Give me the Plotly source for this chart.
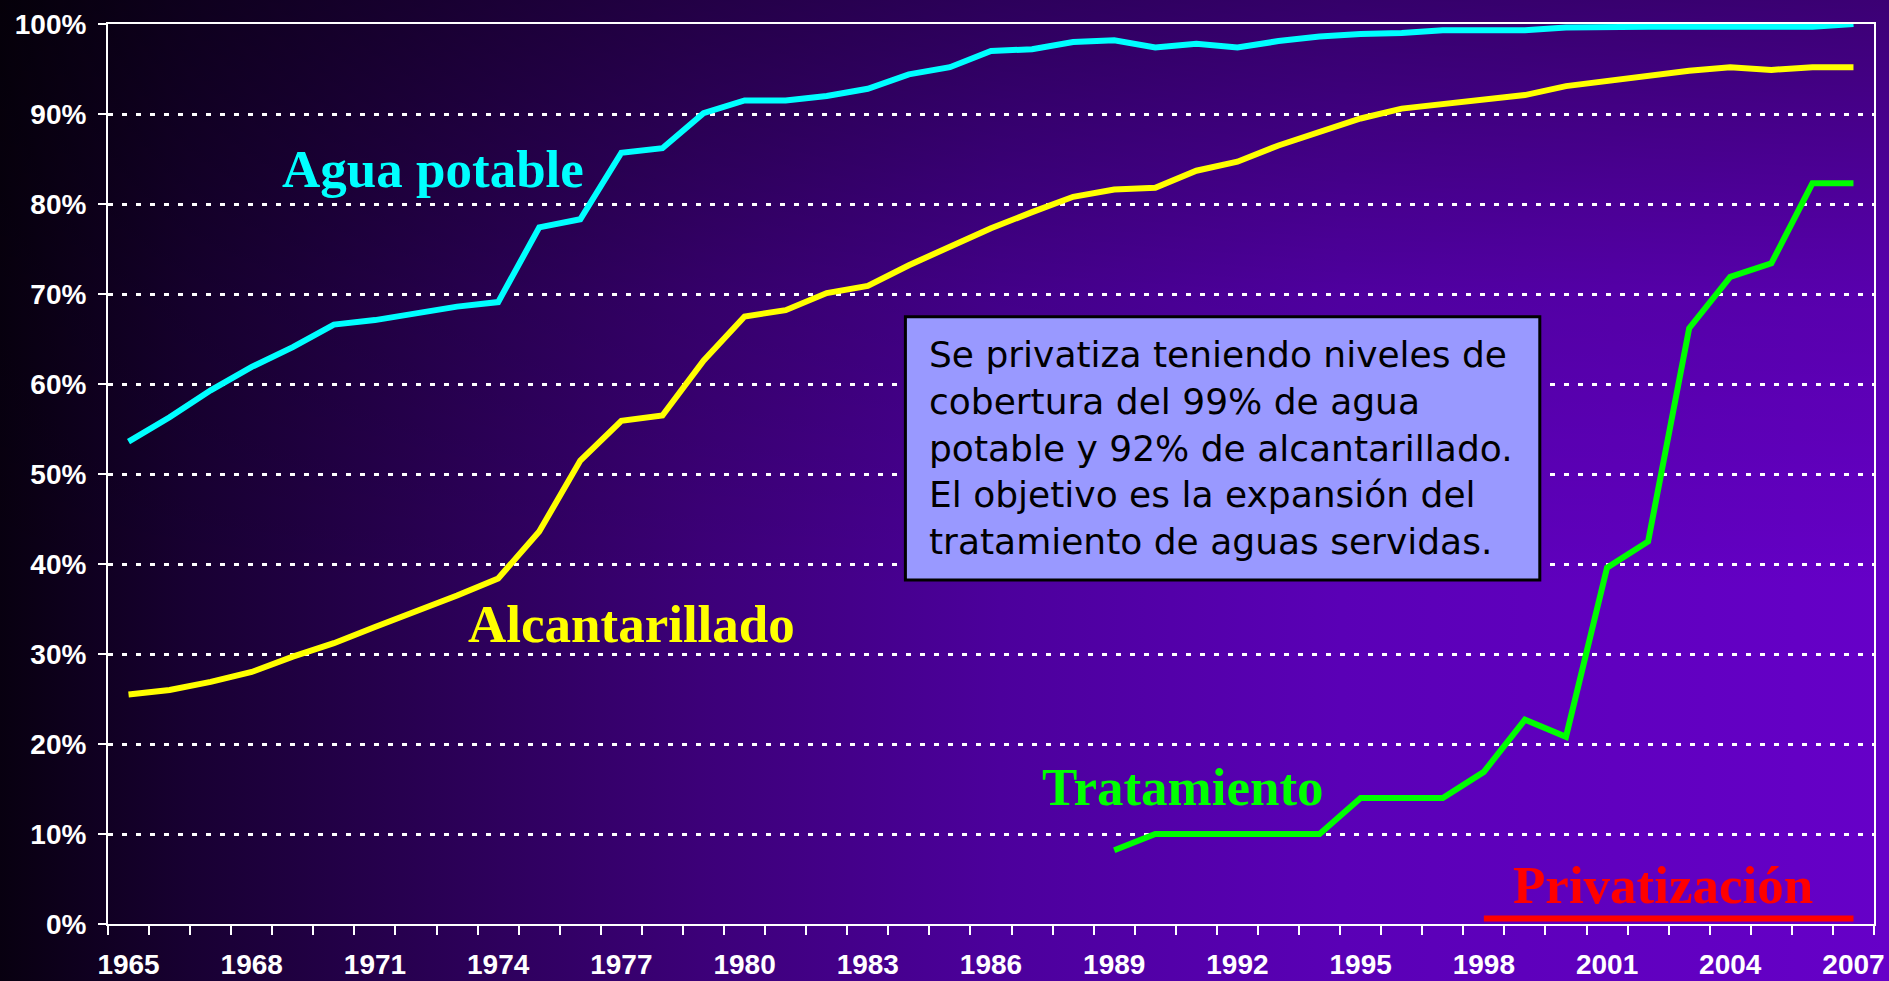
import base64
import plotly.graph_objects as go

# ---------------- data ----------------
anios = list(range(1965, 2008))

agua_potable = [53.6, 56.3, 59.3, 61.9, 64.1, 66.6, 67.1, 67.8, 68.6, 69.1,
                77.4, 78.3, 85.7, 86.2, 90.1, 91.5, 91.5, 92.0, 92.8, 94.4,
                95.2, 97.0, 97.2, 98.0, 98.2, 97.4, 97.8, 97.4, 98.1, 98.6,
                98.9, 99.0, 99.3, 99.3, 99.3, 99.6, 99.7, 99.7, 99.7, 99.7,
                99.7, 99.7, 100.0]

alcantarillado = [25.5, 26.0, 26.9, 28.0, 29.7, 31.2, 33.0, 34.7, 36.5, 38.4,
                  43.6, 51.5, 55.9, 56.5, 62.6, 67.5, 68.2, 70.1, 70.9, 73.2,
                  75.3, 77.3, 79.1, 80.8, 81.6, 81.8, 83.7, 84.7, 86.5, 88.0,
                  89.5, 90.6, 91.1, 91.5, 92.1, 93.1, 93.7, 94.3, 94.8, 95.2,
                  94.9, 95.2, 95.2]

anios_tratamiento = list(range(1989, 2008))
tratamiento = [8.2, 10.0, 10.0, 10.0, 10.0, 10.0, 14.0, 14.0, 14.0, 16.9,
               22.7, 20.8, 39.6, 42.5, 66.2, 71.9, 73.4, 82.3, 82.3]

privatizacion_anios = [1998, 2007]
privatizacion_nivel = [0.6, 0.6]

etiquetas_anios = [1965, 1968, 1971, 1974, 1977, 1980, 1983, 1986, 1989,
                   1992, 1995, 1998, 2001, 2004, 2007]
etiquetas_pct = [0, 10, 20, 30, 40, 50, 60, 70, 80, 90, 100]

texto_caja = ("Se privatiza teniendo niveles de<br>cobertura del 99% de agua<br>"
              "potable y 92% de alcantarillado.<br>El objetivo es la expansión del<br>"
              "tratamiento de aguas servidas.")

# ---------------- layout geometry ----------------
W, H = 1889, 981
ML, MR, MT, MB = 108, 15, 24, 57
PW, PH = W - ML - MR, H - MT - MB


def px_x(px):
    return (px - ML) / PW


def px_y(py):
    return (H - MB - py) / PH


# background gradient as svg image
svg = f'''<svg xmlns="http://www.w3.org/2000/svg" width="{W}" height="{H}" viewBox="0 0 {W} {H}" preserveAspectRatio="none">
<defs>
<linearGradient id="h" x1="0" y1="0" x2="1" y2="0">
<stop offset="0" stop-color="#080010"/>
<stop offset="0.1" stop-color="#180032"/>
<stop offset="0.37" stop-color="#3c0078"/>
<stop offset="0.53" stop-color="#4c009c"/>
<stop offset="0.71" stop-color="#5a00b6"/>
<stop offset="1" stop-color="#6600c8"/>
</linearGradient>
<linearGradient id="v" x1="0" y1="0" x2="0" y2="1">
<stop offset="0" stop-color="#000000" stop-opacity="0.42"/>
<stop offset="0.3" stop-color="#000000" stop-opacity="0.13"/>
<stop offset="0.6" stop-color="#000000" stop-opacity="0"/>
</linearGradient>
</defs>
<rect x="0" y="0" width="{W}" height="{H}" fill="url(#h)"/>
<rect x="0" y="0" width="{W}" height="{H}" fill="url(#v)"/>
</svg>'''
svg_uri = "data:image/svg+xml;base64," + base64.b64encode(svg.encode()).decode()

fig = go.Figure()

fig.add_trace(go.Scatter(x=anios, y=agua_potable, mode="lines",
                         line=dict(color="#00ffff", width=6), name="Agua potable"))
fig.add_trace(go.Scatter(x=anios, y=alcantarillado, mode="lines",
                         line=dict(color="#ffff00", width=6), name="Alcantarillado"))
fig.add_trace(go.Scatter(x=anios_tratamiento, y=tratamiento, mode="lines",
                         line=dict(color="#00ff00", width=6), name="Tratamiento"))
fig.add_trace(go.Scatter(x=privatizacion_anios, y=privatizacion_nivel, mode="lines",
                         line=dict(color="#ff0000", width=6), name="Privatización"))

minor_ticks = [a - 0.5 for a in anios] + [anios[-1] + 0.5]

fig.update_layout(
    width=W, height=H,
    margin=dict(l=ML, r=MR, t=MT, b=MB, autoexpand=False),
    paper_bgcolor="#200040",
    plot_bgcolor="rgba(0,0,0,0)",
    showlegend=False,
    images=[dict(source=svg_uri, xref="paper", yref="paper",
                 x=-ML / PW, y=1 + MT / PH, sizex=W / PW, sizey=H / PH,
                 xanchor="left", yanchor="top", sizing="stretch", layer="below")],
    xaxis=dict(
        range=[anios[0] - 0.5, anios[-1] + 0.5],
        tickmode="array", tickvals=etiquetas_anios,
        ticktext=[str(a) for a in etiquetas_anios],
        ticks="", showgrid=False, zeroline=False,
        showline=True, linecolor="white", linewidth=2, mirror=True,
        tickfont=dict(family="Liberation Sans", size=28, color="white", weight="bold"),
        ticklabelstandoff=14,
        minor=dict(tickmode="array", tickvals=minor_ticks, ticks="outside",
                   ticklen=9, tickwidth=2, tickcolor="white", showgrid=False),
    ),
    yaxis=dict(
        range=[0, 100],
        tickmode="array", tickvals=etiquetas_pct,
        ticktext=[f"{v}%" for v in etiquetas_pct],
        ticks="outside", ticklen=8, tickwidth=2, tickcolor="white",
        showgrid=True, gridcolor="white", gridwidth=2.5, griddash="5px,9px",
        zeroline=False,
        showline=True, linecolor="white", linewidth=2, mirror=True,
        tickfont=dict(family="Liberation Sans", size=28, color="white", weight="bold"),
        ticklabelstandoff=6,
    ),
)

# text box
fig.add_shape(type="rect", xref="paper", yref="paper",
              x0=px_x(905.4), x1=px_x(1539.8), y0=px_y(580), y1=px_y(316.7),
              fillcolor="#9999ff", line=dict(color="black", width=3), layer="above")
fig.add_annotation(xref="paper", yref="paper", x=px_x(927), y=px_y(448.3),
                   xanchor="left", yanchor="middle", align="left", showarrow=False,
                   text=texto_caja,
                   font=dict(family="DejaVu Sans", size=36, color="black"))

serif = "Liberation Serif"
labels = [
    ("Agua potable", "#00ffff", 433, 169.2),
    ("Alcantarillado", "#ffff00", 631.7, 624.2),
    ("Tratamiento", "#00ff00", 1183.4, 786.5),
    ("Privatización", "#ff0000", 1663.2, 885),
]
for txt, col, cx, cy in labels:
    fig.add_annotation(xref="paper", yref="paper", x=px_x(cx), y=px_y(cy),
                       xanchor="center", yanchor="middle", showarrow=False,
                       text=f"<b>{txt}</b>",
                       font=dict(family=serif, size=53, color=col))

fig.write_html(
    "out.html",
    config={"displayModeBar": False},
    post_script="document.body.style.margin='0';document.body.style.padding='0';"
                "document.body.style.overflow='hidden';"
                "document.documentElement.style.overflow='hidden';",
)
